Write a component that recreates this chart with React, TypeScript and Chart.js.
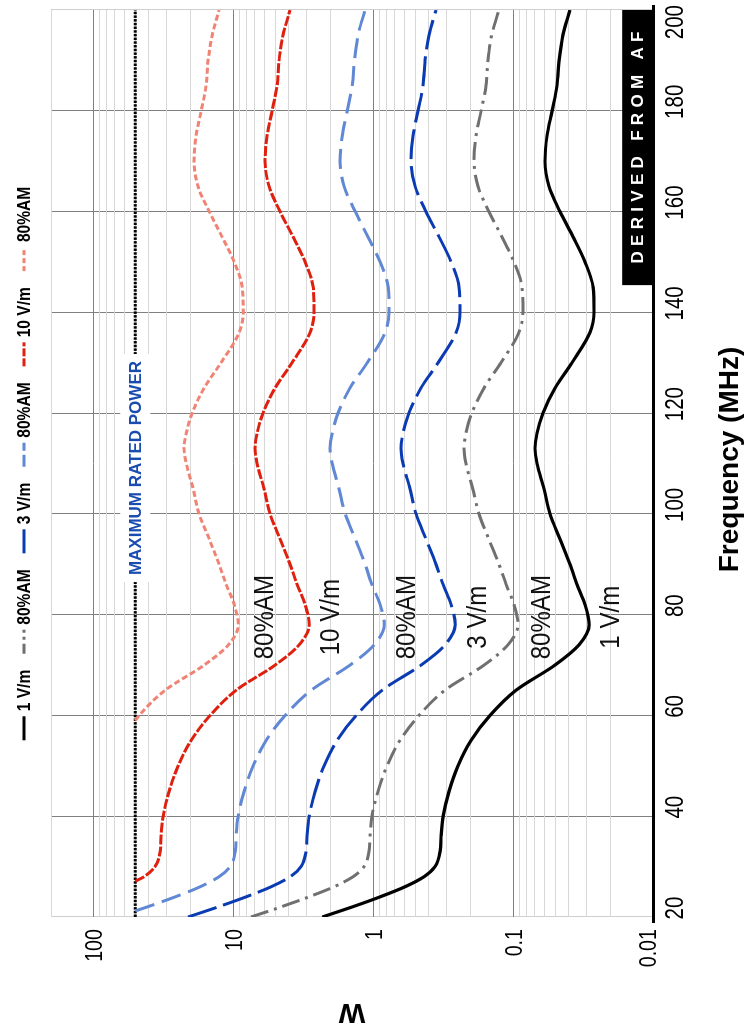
import { useEffect, useRef } from "react";
import { Chart, registerables } from "chart.js";

Chart.register(...registerables);

// ---------- data ----------
const FREQ_TICKS = [20, 40, 60, 80, 100, 120, 140, 160, 180, 200];
const W_TICK_LABELS = [0.01, 0.1, 1, 10, 100];

const FREQ = [20, 22, 24, 26, 28, 30, 33, 36, 40, 45, 50, 55, 60, 65, 70, 74, 78, 82, 86, 90, 95, 100, 105, 110, 113, 116, 120, 125, 130, 136, 140, 145, 150, 155, 160, 165, 170, 175, 180, 185, 190, 195, 200];

const W_1VM = [2.31, 1.41, 0.891, 0.591, 0.432, 0.361, 0.332, 0.327, 0.316, 0.286, 0.247, 0.2, 0.146, 0.0952, 0.0501, 0.0338, 0.0286, 0.0306, 0.0349, 0.0392, 0.0462, 0.0544, 0.0601, 0.0674, 0.0697, 0.0674, 0.0611, 0.0501, 0.0379, 0.0282, 0.0264, 0.0268, 0.0306, 0.0373, 0.0462, 0.0553, 0.0591, 0.0572, 0.0526, 0.0485, 0.0469, 0.044, 0.0392];

const W_1VM_AM = [7.45, 4.55, 2.87, 1.9, 1.39, 1.16, 1.07, 1.05, 1.02, 0.92, 0.795, 0.644, 0.47, 0.307, 0.161, 0.109, 0.0921, 0.0985, 0.112, 0.126, 0.149, 0.175, 0.194, 0.217, 0.224, 0.217, 0.197, 0.161, 0.122, 0.0908, 0.085, 0.0863, 0.0985, 0.12, 0.149, 0.178, 0.19, 0.184, 0.169, 0.156, 0.151, 0.142, 0.126];

const W_3VM = [21.0, 12.8, 8.07, 5.35, 3.91, 3.27, 3.01, 2.96, 2.86, 2.59, 2.24, 1.81, 1.32, 0.862, 0.454, 0.306, 0.259, 0.277, 0.316, 0.355, 0.419, 0.493, 0.545, 0.611, 0.631, 0.611, 0.554, 0.454, 0.343, 0.255, 0.239, 0.243, 0.277, 0.338, 0.419, 0.501, 0.535, 0.518, 0.477, 0.439, 0.425, 0.399, 0.355];

const FREQ_3VM_AM = [21.2, 22, 24, 26, 28, 30, 33, 36, 40, 45, 50, 55, 60, 65, 70, 74, 78, 82, 86, 90, 95, 100, 105, 110, 113, 116, 120, 125, 130, 136, 140, 145, 150, 155, 160, 165, 170, 175, 180, 185, 190, 195, 200];
const W_3VM_AM = [50, 41.1, 25.9, 17.2, 12.6, 10.5, 9.66, 9.52, 9.2, 8.32, 7.19, 5.82, 4.25, 2.77, 1.46, 0.984, 0.832, 0.89, 1.02, 1.14, 1.34, 1.58, 1.75, 1.96, 2.03, 1.96, 1.78, 1.46, 1.1, 0.821, 0.768, 0.78, 0.89, 1.09, 1.34, 1.61, 1.72, 1.66, 1.53, 1.41, 1.36, 1.28, 1.14];

const FREQ_10VM = [27.1, 28, 30, 33, 36, 40, 45, 50, 55, 60, 65, 70, 74, 78, 82, 86, 90, 95, 100, 105, 110, 113, 116, 120, 125, 130, 136, 140, 145, 150, 155, 160, 165, 170, 175, 180, 185, 190, 195, 200];
const W_10VM = [50, 43.2, 36.1, 33.2, 32.7, 31.6, 28.6, 24.7, 20.0, 14.6, 9.52, 5.01, 3.38, 2.86, 3.06, 3.49, 3.92, 4.62, 5.44, 6.01, 6.74, 6.97, 6.74, 6.11, 5.01, 3.79, 2.82, 2.64, 2.68, 3.06, 3.73, 4.62, 5.53, 5.91, 5.72, 5.26, 4.85, 4.69, 4.4, 3.92];

const FREQ_10VM_AM = [59, 60, 65, 70, 74, 78, 82, 86, 90, 95, 100, 105, 110, 113, 116, 120, 125, 130, 136, 140, 145, 150, 155, 160, 165, 170, 175, 180, 185, 190, 195, 200];
const W_10VM_AM = [50, 46.9, 30.6, 16.1, 10.8, 9.18, 9.82, 11.2, 12.6, 14.8, 17.5, 19.3, 21.6, 22.4, 21.6, 19.6, 16.1, 12.2, 9.05, 8.47, 8.6, 9.82, 12.0, 14.8, 17.8, 19.0, 18.4, 16.9, 15.6, 15.1, 14.1, 12.6];

const MAX_POWER_FREQ = [20, 200];
const MAX_POWER_W = [50, 50];

const CURVE_LABELS = [
  { text: "80%AM", f: 79.5, w: 5.9 },
  { text: "10 V/m", f: 79.5, w: 2.0 },
  { text: "80%AM", f: 79.5, w: 0.571 },
  { text: "3 V/m", f: 79.5, w: 0.178 },
  { text: "80%AM", f: 79.5, w: 0.062 },
  { text: "1 V/m", f: 79.5, w: 0.02 },
];
const MAX_LABEL = { text: "MAXIMUM RATED POWER", f: 109.1, w: 50 };
const DERIVED = { text: "DERIVED FROM AF", f0: 145.4, f1: 200, w0: 0.01, w1: 0.0166 };

// ---------- styling ----------
const SANS = "'Liberation Sans', Arial, sans-serif";
const NARROW_X = 0.82;

const pts = (xs: number[], ys: number[]) => xs.map((x, i) => ({ x, y: ys[i] }));

const GRID_W: number[] = [];
for (let e = -2; e <= 2; e++) {
  for (let m = 1; m <= 9; m++) {
    const v = parseFloat((m * Math.pow(10, e)).toPrecision(3));
    if (v <= 200) GRID_W.push(v);
  }
}
GRID_W.push(200);

const isDecade = (v: number) => W_TICK_LABELS.some((d) => Math.abs(d - v) / d < 1e-6);

function narrowText(
  ctx: CanvasRenderingContext2D,
  text: string,
  x: number,
  y: number,
  font: string,
  sx: number,
  align: CanvasTextAlign,
  baseline: CanvasTextBaseline
) {
  ctx.save();
  ctx.translate(x, y);
  ctx.scale(sx, 1);
  ctx.font = font;
  ctx.textAlign = align;
  ctx.textBaseline = baseline;
  ctx.fillText(text, 0, 0);
  ctx.restore();
}

const overlay = {
  id: "overlay",
  afterDatasetsDraw(chart: any) {
    const { ctx, scales } = chart;
    const x = scales.x;
    const y = scales.y;
    ctx.save();

    // max rated power label with white background
    ctx.font = `bold 17px ${SANS}`;
    const mw = ctx.measureText(MAX_LABEL.text).width;
    const mx = x.getPixelForValue(MAX_LABEL.f);
    const my = y.getPixelForValue(MAX_LABEL.w);
    ctx.fillStyle = "#fff";
    ctx.fillRect(mx - mw / 2 - 7, my - 15, mw + 14, 30);
    ctx.fillStyle = "#1a4cb0";
    ctx.textAlign = "center";
    ctx.textBaseline = "middle";
    ctx.fillText(MAX_LABEL.text, mx, my + 1);

    // curve labels
    ctx.fillStyle = "#111";
    CURVE_LABELS.forEach((l) => {
      narrowText(ctx, l.text, x.getPixelForValue(l.f), y.getPixelForValue(l.w), `28px ${SANS}`, 0.86, "center", "middle");
    });

    // derived box
    const bx0 = x.getPixelForValue(DERIVED.f0);
    const bx1 = x.getPixelForValue(DERIVED.f1);
    const by0 = y.getPixelForValue(DERIVED.w1);
    const by1 = y.getPixelForValue(DERIVED.w0);
    ctx.fillStyle = "#000";
    ctx.fillRect(bx0, by0, bx1 - bx0, by1 - by0);
    ctx.fillStyle = "#fff";
    ctx.font = `bold 17px ${SANS}`;
    ctx.textAlign = "left";
    ctx.textBaseline = "middle";
    const spacing = 5.3;
    const chars = DERIVED.text.split("");
    const widths = chars.map((c) => ctx.measureText(c).width);
    const total = widths.reduce((a, b) => a + b, 0) + spacing * (chars.length - 1);
    let cx = (bx0 + bx1) / 2 - total / 2;
    const cy = (by0 + by1) / 2 + 1;
    chars.forEach((c, i) => {
      ctx.fillText(c, cx, cy);
      cx += widths[i] + spacing;
    });
    ctx.restore();
  },
  afterDraw(chart: any) {
    const { ctx, scales, chartArea } = chart;
    const x = scales.x;
    const y = scales.y;
    ctx.save();
    // thick axis line
    const ay = y.getPixelForValue(0.01) + 0.5;
    ctx.strokeStyle = "#000";
    ctx.lineWidth = 3;
    ctx.beginPath();
    ctx.moveTo(x.getPixelForValue(20) - 6, ay);
    ctx.lineTo(x.getPixelForValue(200) + 5, ay);
    ctx.stroke();

    // frequency tick labels
    ctx.fillStyle = "#000";
    const tickFont = `25px ${SANS}`;
    FREQ_TICKS.forEach((f) => {
      const s = String(f);
      ctx.font = tickFont;
      const w = ctx.measureText(s).width * NARROW_X;
      let cxp = x.getPixelForValue(f) + 9;
      if (cxp + w / 2 > chart.width - 5) cxp = chart.width - 5 - w / 2;
      narrowText(ctx, s, cxp, chartArea.bottom + 30, tickFont, NARROW_X, "center", "alphabetic");
    });
    // W tick labels
    W_TICK_LABELS.forEach((v) => {
      let py = y.getPixelForValue(v);
      if (v === 0.01) py -= 6;
      narrowText(ctx, String(v), chartArea.left - 12, py + 8.5, `24px ${SANS}`, NARROW_X, "right", "alphabetic");
    });

    // axis titles
    ctx.fillStyle = "#000";
    ctx.font = `bold 28px ${SANS}`;
    ctx.textAlign = "center";
    ctx.textBaseline = "alphabetic";
    ctx.fillText("Frequency (MHz)", (chartArea.left + chartArea.right) / 2 + 4, 738);
    ctx.save();
    ctx.translate(16, (chartArea.top + chartArea.bottom) / 2);
    ctx.rotate(-Math.PI / 2);
    ctx.textBaseline = "middle";
    ctx.fillText("W", 0, 0);
    ctx.restore();

    // legend
    const items = chart.data.datasets.filter((d: any) => d.label !== "max");
    const lfont = `bold 19px ${SANS}`;
    ctx.font = lfont;
    const sample = 24;
    const gapIn = 5;
    const gapOut = 16;
    const widths = items.map((d: any) => sample + gapIn + ctx.measureText(d.label).width * NARROW_X);
    const total = widths.reduce((a: number, b: number) => a + b, 0) + gapOut * (items.length - 1);
    let lx = (chartArea.left + chartArea.right) / 2 - total / 2;
    const ly = 24;
    items.forEach((d: any, i: number) => {
      ctx.strokeStyle = d.borderColor;
      ctx.lineWidth = 3;
      ctx.setLineDash(d.legendDash || []);
      ctx.beginPath();
      ctx.moveTo(lx, ly);
      ctx.lineTo(lx + sample, ly);
      ctx.stroke();
      ctx.setLineDash([]);
      ctx.fillStyle = "#000";
      narrowText(ctx, d.label, lx + sample + gapIn, ly + 1, lfont, NARROW_X, "left", "middle");
      lx += widths[i] + gapOut;
    });
    ctx.restore();
  },
};

export default function App() {
  const ref = useRef<HTMLCanvasElement>(null);
  useEffect(() => {
    const canvas = ref.current!;
    const line = (label: string, xs: number[], ys: number[], color: string, dash: number[], legendDash: number[], width = 3) => ({
      label,
      data: pts(xs, ys),
      borderColor: color,
      backgroundColor: color,
      borderWidth: width,
      borderDash: dash,
      legendDash,
      pointRadius: 0,
      cubicInterpolationMode: "monotone" as const,
      fill: false,
    });
    const chart = new Chart(canvas, {
      type: "line",
      data: {
        datasets: [
          line("1 V/m", FREQ, W_1VM, "#000000", [], [], 3.2),
          line("80%AM", FREQ, W_1VM_AM, "#707070", [18, 6, 3, 6], [10, 4, 3, 4]),
          line("3 V/m", FREQ, W_3VM, "#0a3bb2", [30, 7], [24, 0]),
          line("80%AM", FREQ_3VM_AM, W_3VM_AM, "#6088d4", [20, 8], [12, 4]),
          line("10 V/m", FREQ_10VM, W_10VM, "#e0200f", [10, 2], [8, 2]),
          line("80%AM", FREQ_10VM_AM, W_10VM_AM, "#f08474", [6, 3], [5, 3]),
          {
            label: "max",
            data: pts(MAX_POWER_FREQ, MAX_POWER_W),
            borderColor: "#000",
            borderWidth: 3,
            borderDash: [2.5, 1.2],
            pointRadius: 0,
            fill: false,
          } as any,
        ],
      },
      options: {
        responsive: false,
        animation: false,
        layout: { padding: { left: 0, right: 10, top: 51, bottom: 0 } },
        plugins: { legend: { display: false }, tooltip: { enabled: false } },
        scales: {
          x: {
            type: "linear",
            min: 20,
            max: 200,
            afterBuildTicks: (s: any) => {
              s.ticks = FREQ_TICKS.map((v) => ({ value: v }));
            },
            afterFit: (s: any) => {
              s.height = 93;
              s.paddingLeft = 0;
              s.paddingRight = 0;
            },
            border: { display: false },
            grid: {
              drawTicks: false,
              color: (c: any) => (c.tick && (c.tick.value === 20 || c.tick.value === 200) ? "#cfcfcf" : "#808080"),
              lineWidth: 1,
            },
            ticks: { display: false },
          },
          y: {
            type: "logarithmic",
            min: 0.01,
            max: 200,
            afterBuildTicks: (s: any) => {
              s.ticks = GRID_W.map((v) => ({ value: v }));
            },
            afterFit: (s: any) => {
              s.width = 111;
              s.paddingTop = 0;
              s.paddingBottom = 0;
            },
            border: { display: false },
            grid: {
              drawTicks: false,
              color: (c: any) => (c.tick && isDecade(c.tick.value) ? "#808080" : "#d8d8d8"),
              lineWidth: 1,
            },
            ticks: { display: false },
          },
        },
      },
      plugins: [overlay],
    });
    return () => chart.destroy();
  }, []);

  return (
    <div
      style={{
        position: "fixed",
        left: 0,
        top: 0,
        width: 1028,
        height: 746,
        transformOrigin: "0 0",
        transform: "translate(0px, 1028px) rotate(-90deg)",
        background: "#fff",
      }}
    >
      <canvas ref={ref} width={1028} height={746} style={{ display: "block", width: 1028, height: 746 }} />
    </div>
  );
}
